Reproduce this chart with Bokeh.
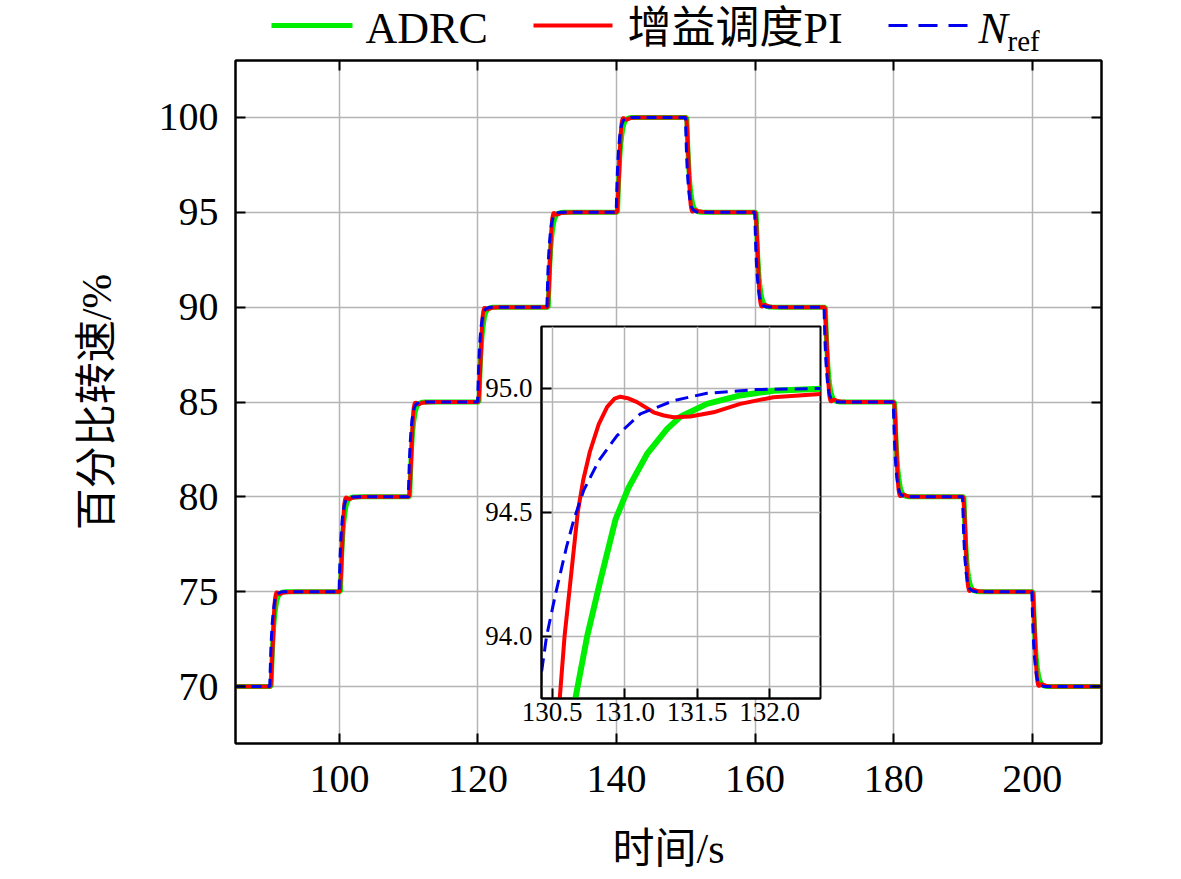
from bokeh.plotting import figure
from bokeh.models import FixedTicker, LinearAxis, PrintfTickFormatter, Range1d
from bokeh.embed import file_html
from bokeh.resources import INLINE
from bokeh.core.properties import value

# ---------------- data ----------------
step_times = [90, 100, 110, 120, 130, 140, 150, 160, 170, 180, 190, 200]
step_levels = [70, 75, 80, 85, 90, 95, 100, 95, 90, 85, 80, 75, 70]
t_start, t_end = 85, 210

# values read from the zoomed step (90 -> 95 at t = 130)
zoom_step_time = 130.0
zoom_from, zoom_to = 90.0, 95.0
nref_t = [129.95, 130.0, 130.1, 130.2, 130.3, 130.431, 130.461, 130.523, 130.598, 130.649,
          130.717, 130.821, 130.947, 131.108, 131.337, 131.567, 131.911, 132.35, 133.2]
nref_y = [90.0, 90.72, 91.9, 92.72, 93.33, 93.875, 94.0, 94.171, 94.359, 94.47,
          94.588, 94.708, 94.809, 94.897, 94.95, 94.98, 94.995, 94.999, 95.0]
adrc_t = [130.15, 130.2, 130.28, 130.38, 130.5, 130.58, 130.66, 130.741, 130.832, 130.936,
          131.027, 131.154, 131.291, 131.383, 131.567, 131.796, 132.025, 132.35, 133.2]
adrc_y = [90.0, 90.64, 91.5, 92.33, 93.07, 93.45, 93.75, 94.0, 94.225, 94.47,
          94.6, 94.735, 94.835, 94.885, 94.937, 94.971, 94.99, 94.998, 95.0]
pi_t = [130.05, 130.1, 130.2, 130.3, 130.4, 130.5, 130.552, 130.585, 130.626, 130.676,
        130.713, 130.76, 130.821, 130.879, 130.93, 130.97, 131.02, 131.085, 131.199, 131.27,
        131.337, 131.452, 131.612, 131.796, 132.025, 132.35, 133.0, 134.0]
pi_y = [90.0, 90.15, 90.75, 91.55, 92.4, 93.35, 93.75, 94.0, 94.225, 94.5,
        94.628, 94.745, 94.855, 94.925, 94.958, 94.966, 94.96, 94.944, 94.903, 94.89,
        94.883, 94.886, 94.903, 94.937, 94.964, 94.977, 94.99, 95.0]

x_ticks = [100, 120, 140, 160, 180, 200]
y_ticks = [70, 75, 80, 85, 90, 95, 100]
inset_x_ticks = [130.5, 131.0, 131.5, 132.0]
inset_y_ticks = [94.0, 94.5, 95.0]

legend_labels = ["ADRC", "增益调度PI", "N", "ref"]

GREEN = "#00ee00"
RED = "#ff0000"
BLUE = "#0000ee"
GRID = "#b4b4b4"
LATIN = "Liberation Serif"
MIXED = "Liberation Serif, Noto Sans CJK SC"

# layout (page pixels)
MAIN_LEFT, MAIN_TOP = 8, 8
MAIN_BL, MAIN_BT = 227, 52
MAIN_FW, MAIN_FH = 866, 683
MAIN_Y = (67, 103)
INS_FL, INS_FT = 541, 326
INS_FW, INS_FH = 279, 372
INS_BL, INS_BT = 62, 4
INS_X = (130.426, 132.35)
INS_Y = (93.749, 95.249)


def build_series(ts, ys):
    """Apply the read step response to every step of the schedule."""
    dt = [t - zoom_step_time for t in ts]
    fr = [(y - zoom_from) / (zoom_to - zoom_from) for y in ys]
    xs, vs = [t_start], [step_levels[0]]
    for i, T in enumerate(step_times):
        a, b = step_levels[i], step_levels[i + 1]
        for d, f in zip(dt, fr):
            xs.append(T + d)
            vs.append(a + (b - a) * f)
    xs.append(t_end)
    vs.append(step_levels[-1])
    return xs, vs


adrc_x, adrc_v = build_series(adrc_t, adrc_y)
pi_x, pi_v = build_series(pi_t, pi_y)
nref_x, nref_v = build_series(nref_t, nref_y)


def style_axis(ax, fs, standoff):
    ax.axis_line_color = "black"
    ax.axis_line_width = 2
    ax.major_tick_in = 10
    ax.major_tick_out = 0
    ax.major_tick_line_width = 2
    ax.major_tick_line_color = "black"
    ax.minor_tick_line_color = None
    ax.major_label_text_font = LATIN
    ax.major_label_text_font_size = fs
    ax.major_label_text_color = "black"
    ax.major_label_standoff = standoff


# ---------------- main figure ----------------
p = figure(name="main", x_range=Range1d(t_start, t_end), y_range=Range1d(*MAIN_Y),
           frame_width=MAIN_FW, frame_height=MAIN_FH,
           min_border_left=MAIN_BL, min_border_right=60, min_border_top=MAIN_BT, min_border_bottom=60,
           output_backend="svg", toolbar_location=None,
           x_axis_label="时间/s", y_axis_label="百分比转速/%")
p.background_fill_color = "white"
p.border_fill_color = "white"
p.outline_line_color = "black"
p.outline_line_width = 2

xt = FixedTicker(ticks=x_ticks)
yt = FixedTicker(ticks=y_ticks)
p.xaxis.ticker = xt
p.yaxis.ticker = yt
p.xgrid.ticker = xt
p.ygrid.ticker = yt
for g in (p.xgrid, p.ygrid):
    g.grid_line_color = GRID
    g.grid_line_width = 1.5

style_axis(p.xaxis[0], "40px", 22)
style_axis(p.yaxis[0], "40px", 17)
for ax in (p.xaxis[0], p.yaxis[0]):
    ax.axis_label_text_font = MIXED
    ax.axis_label_text_font_size = "42px"
    ax.axis_label_text_font_style = "normal"
    ax.axis_label_text_color = "black"
p.xaxis[0].axis_label_standoff = 31
p.yaxis[0].axis_label_standoff = 36

top_ax = LinearAxis(ticker=xt)
right_ax = LinearAxis(ticker=yt)
for ax in (top_ax, right_ax):
    style_axis(ax, "0px", 0)
    ax.major_label_text_alpha = 0
p.add_layout(top_ax, "above")
p.add_layout(right_ax, "right")

p.line(adrc_x, adrc_v, line_color=GREEN, line_width=5)
p.line(pi_x, pi_v, line_color=RED, line_width=4)
p.line(nref_x, nref_v, line_color=BLUE, line_width=3, line_dash="10 6")

# ---------------- inset ----------------
ins = figure(name="inset", x_range=Range1d(*INS_X), y_range=Range1d(*INS_Y),
             frame_width=INS_FW, frame_height=INS_FH,
             min_border_left=INS_BL, min_border_right=4, min_border_top=INS_BT, min_border_bottom=40,
             output_backend="svg", toolbar_location=None)
ins.background_fill_color = "white"
ins.border_fill_alpha = 0
ins.outline_line_color = "black"
ins.outline_line_width = 2
ixt = FixedTicker(ticks=inset_x_ticks)
iyt = FixedTicker(ticks=inset_y_ticks)
ins.xaxis.ticker = ixt
ins.yaxis.ticker = iyt
ins.xgrid.ticker = ixt
ins.ygrid.ticker = iyt
ins.xaxis.formatter = PrintfTickFormatter(format="%.1f")
ins.yaxis.formatter = PrintfTickFormatter(format="%.1f")
for g in (ins.xgrid, ins.ygrid):
    g.grid_line_color = GRID
    g.grid_line_width = 1.5
style_axis(ins.xaxis[0], "27px", 4)
style_axis(ins.yaxis[0], "27px", 9)

# the main plot's horizontal grid lines show through the inset
main_frame_bottom = MAIN_TOP + MAIN_BT + MAIN_FH
ins_frame_bottom = INS_FT + INS_FH
through = []
for v in y_ticks:
    py = main_frame_bottom - (v - MAIN_Y[0]) / (MAIN_Y[1] - MAIN_Y[0]) * MAIN_FH
    if INS_FT < py < ins_frame_bottom:
        through.append(INS_Y[0] + (ins_frame_bottom - py) / INS_FH * (INS_Y[1] - INS_Y[0]))
if through:
    ins.segment(x0=[INS_X[0]] * len(through), x1=[INS_X[1]] * len(through),
                y0=through, y1=through, line_color=GRID, line_width=1.5)

ins.line(adrc_t, adrc_y, line_color=GREEN, line_width=6)
ins.line(pi_t, pi_y, line_color=RED, line_width=4)
ins.line(nref_t, nref_y, line_color=BLUE, line_width=3, line_dash="13 7")

# ---------------- legend (page coordinates) ----------------
leg = figure(name="legend", width=1181, height=120, x_range=Range1d(0, 1181), y_range=Range1d(120, 0),
             x_axis_type=None, y_axis_type=None, min_border=0,
             output_backend="svg", toolbar_location=None)
leg.outline_line_color = None
leg.background_fill_alpha = 0
leg.border_fill_alpha = 0
leg.grid.visible = False

leg.segment(x0=[271], y0=[25], x1=[352], y1=[25], line_color=GREEN, line_width=5)
leg.segment(x0=[533], y0=[25], x1=[612], y1=[25], line_color=RED, line_width=4)
leg.segment(x0=[888], y0=[25], x1=[967], y1=[25], line_color=BLUE, line_width=3, line_dash="19 11")
leg.text(x=[365], y=[28], text=[legend_labels[0]], text_font=value(LATIN), text_font_size="44px",
         text_baseline="middle", text_color="black")
leg.text(x=[627], y=[28], text=[legend_labels[1]], text_font=value(MIXED), text_font_size="44px",
         text_baseline="middle", text_color="black")
leg.text(x=[978], y=[28], text=[legend_labels[2]], text_font=value(LATIN), text_font_size="44px",
         text_font_style="italic", text_baseline="middle", text_color="black")
leg.text(x=[1007], y=[40], text=[legend_labels[3]], text_font=value(LATIN), text_font_size="29px",
         text_baseline="middle", text_color="black")

TEMPLATE = """
{% block postamble %}
<style>html, body { overflow: hidden; }</style>
{% endblock %}
{% block contents %}
{% from macros import embed %}
<div style="position:absolute;left:8px;top:8px;">{{ embed(roots.main) }}</div>
<div style="position:absolute;left:479px;top:322px;">{{ embed(roots.inset) }}</div>
<div style="position:absolute;left:0px;top:0px;">{{ embed(roots.legend) }}</div>
{% endblock %}
"""

open("out.html", "w").write(file_html([p, ins, leg], INLINE, template=TEMPLATE))
